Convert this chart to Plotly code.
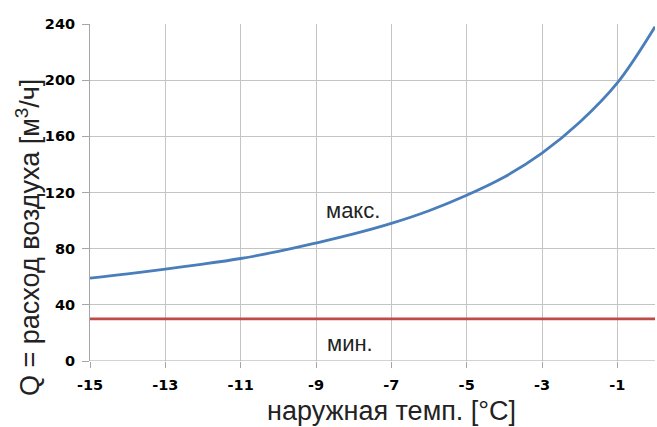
import plotly.graph_objects as go

temp = [-15, -14, -13, -12, -11, -10, -9, -8, -7, -6, -5, -4, -3, -2, -1, 0]
q_max = [59, 62, 65.5, 69, 73, 78, 84, 90.5, 98, 107, 118, 131, 148, 170, 198, 238]
q_min = [30] * len(temp)
x_ticks = [-15, -13, -11, -9, -7, -5, -3, -1]
y_ticks = [0, 40, 80, 120, 160, 200, 240]

TXT = "Liberation Sans, Arial"
TICK = dict(size=14.5, family="DejaVu Sans", weight="bold", color="#000")

fig = go.Figure()
fig.add_trace(go.Scatter(x=temp, y=q_max, mode="lines", line=dict(color="#4a7ebb", width=2.8, shape="spline"),
                         showlegend=False, hoverinfo="skip", cliponaxis=False))
fig.add_trace(go.Scatter(x=temp, y=q_min, mode="lines", line=dict(color="#be4b48", width=2.8),
                         showlegend=False, hoverinfo="skip"))

fig.add_annotation(x=-8.03, y=107, text="макс.", showarrow=False,
                   font=dict(family=TXT, size=22, color="#222"))
fig.add_annotation(x=-8.1, y=12.8, text="мин.", showarrow=False,
                   font=dict(family=TXT, size=22, color="#222"))
fig.add_annotation(xref="paper", yref="paper", x=0.5345, y=-0.148, xanchor="center", yanchor="middle",
                   text="наружная темп. [°C]", showarrow=False, font=dict(family=TXT, size=27, color="#222"))
fig.add_annotation(xref="paper", yref="paper", x=-0.1097, y=0.365, xanchor="center", yanchor="middle",
                   text="Q = расход воздуха [м<sup>3</sup>/ч]", textangle=-90, showarrow=False,
                   font=dict(family=TXT, size=27, color="#222"))

fig.update_layout(
    width=657, height=427,
    margin=dict(l=90, r=2, t=24, b=66),
    paper_bgcolor="white", plot_bgcolor="white",
    font=dict(family=TXT, color="#000"),
    xaxis=dict(range=[-15, 0], tickvals=x_ticks, ticktext=[str(v) for v in x_ticks], automargin=False,
               showgrid=True, gridcolor="#c4c4c4", gridwidth=1, zeroline=False,
               showline=False, ticks="outside", ticklen=6, tickcolor="#a6a6a6",
               ticklabelstandoff=5, tickfont=TICK),
    yaxis=dict(range=[0, 240], tickvals=y_ticks, showgrid=True, gridcolor="#c4c4c4", gridwidth=1, automargin=False,
               zeroline=False, showline=True, linecolor="#a6a6a6", ticks="outside", ticklen=7,
               tickcolor="#a6a6a6", ticklabelstandoff=4, tickfont=TICK),
)
fig.add_shape(type="line", xref="paper", yref="y", x0=0, x1=1, y0=0, y1=0,
              line=dict(color="#a6a6a6", width=1))

fig.write_html("out.html", config={"displayModeBar": False},
               post_script="document.body.style.margin='0px';document.body.style.overflow='hidden';")
